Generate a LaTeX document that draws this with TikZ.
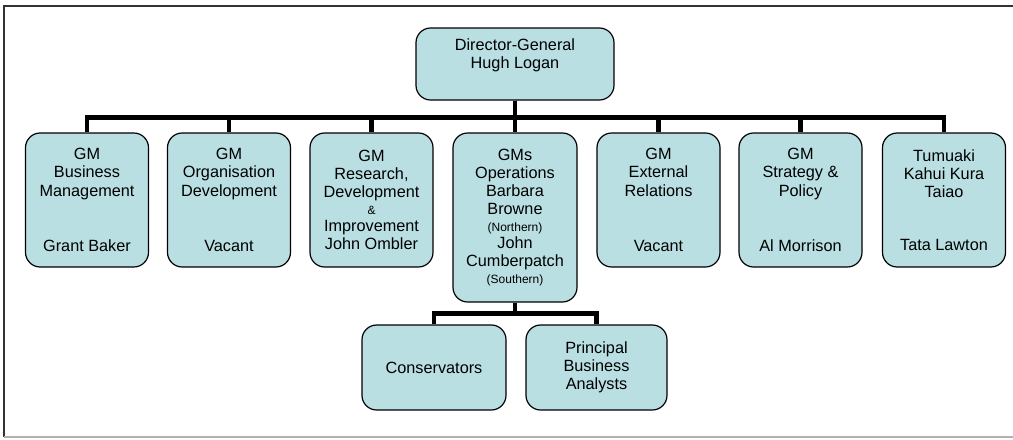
\documentclass[tikz,border=0pt]{standalone}
\usepackage{fontspec}
\setmainfont{Liberation Sans}
\usepackage{tikz}
\usetikzlibrary{positioning}
\definecolor{boxcyan}{RGB}{185,223,226}
\tikzset{
  unit/.style={draw=black, line width=0.9pt, fill=boxcyan, rounded corners=11pt,
    align=center, inner sep=2pt, font=\fontsize{12.2}{13.7}\selectfont},
  gm/.style={unit, minimum width=92.25pt, minimum height=100.5pt},
  link/.style={line width=3.4pt, black},
}
\newcommand{\smalltag}[1]{{\fontsize{9}{10}\selectfont #1}}

\begin{document}
\begin{tikzpicture}[x=0.75pt,y=-0.75pt]
\useasboundingbox (0,0) rectangle (1013,439);

% Frame
\draw[black!80, line width=0.9pt] (4,437) -- (4,6) -- (1013,6);
\draw[black!30, line width=0.9pt] (4,437) -- (1013,437);

% Director
\node[unit, minimum width=148.5pt, minimum height=54pt] (dg) at (515,64)
  {Director-General\\Hugh Logan\\[2pt]\mbox{}};

% GMs
\node[gm] (bus) at (87,200)    {GM\\Business\\Management\\[28pt]Grant Baker};
\node[gm] (org) at (229,200)   {GM\\Organisation\\Development\\[28pt]Vacant};
\node[gm] (rdi) at (371.5,200) {GM\\Research,\\Development\\[-1pt]\smalltag{\&}\\[-1pt]Improvement\\John Ombler};
\node[gm, minimum width=93pt, minimum height=126.75pt] (ops) at (515,217.5)
  {GMs\\Operations\\Barbara\\Browne\\[-1pt]\smalltag{(Northern)}\\[-1pt]John\\Cumberpatch\\[-1pt]\smalltag{(Southern)}};
\node[gm] (ext) at (658.5,200) {GM\\External\\Relations\\[28pt]Vacant};
\node[gm] (str) at (800.5,200) {GM\\Strategy \&\\Policy\\[28pt]Al Morrison};
\node[gm] (tum) at (944,200)   {Tumuaki\\Kahui Kura\\Taiao\\[26pt]Tata Lawton};

% Operations staff
\node[unit, minimum width=108pt, minimum height=63.75pt] (cons) at (434,367.5) {Conservators};
\node[unit, minimum width=105.75pt, minimum height=63.75pt] (pba) at (596.5,367.5) {Principal\\Business\\Analysts};

% Links
\foreach \n in {bus,org,rdi,ops,ext,str,tum}
  \draw[link] (dg.south) -- ++(0,17) -| (\n.north);
\foreach \n in {cons,pba}
  \draw[link] (ops.south) -- ++(0,11) -| (\n.north);

\end{tikzpicture}
\end{document}
